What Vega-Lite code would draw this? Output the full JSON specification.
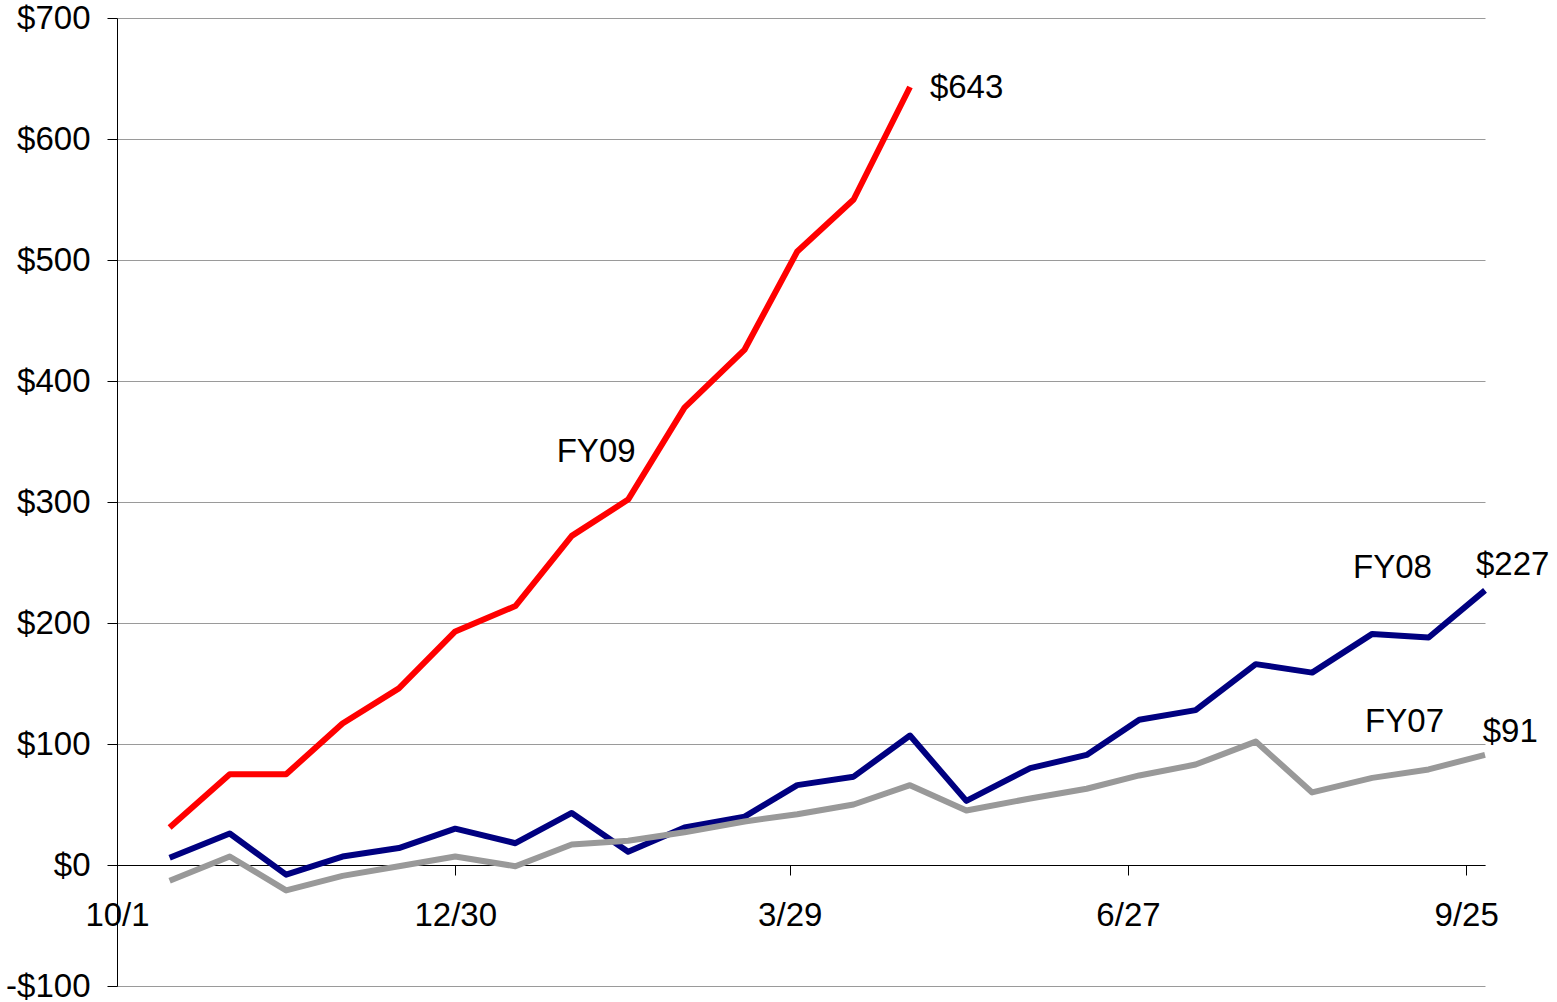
{
  "$schema": "https://vega.github.io/schema/vega-lite/v6.json",
  "autosize": {"type": "none"},
  "width": 1368,
  "height": 968,
  "padding": {"left": 117, "top": 18, "right": 72, "bottom": 16},
  "background": "white",
  "config": {
    "view": {"stroke": null},
    "font": "Liberation Sans",
    "axis": {"labelFont": "Liberation Sans", "labelFontSize": 33, "labelColor": "black"}
  },
  "datasets": {
    "series": [
      {"series": "FY09", "day": 14, "value": 31},
      {"series": "FY09", "day": 30, "value": 75},
      {"series": "FY09", "day": 45, "value": 75},
      {"series": "FY09", "day": 60, "value": 117},
      {"series": "FY09", "day": 75, "value": 146},
      {"series": "FY09", "day": 90, "value": 193},
      {"series": "FY09", "day": 106, "value": 214},
      {"series": "FY09", "day": 121, "value": 272},
      {"series": "FY09", "day": 136, "value": 302},
      {"series": "FY09", "day": 151, "value": 378},
      {"series": "FY09", "day": 167, "value": 426},
      {"series": "FY09", "day": 181, "value": 507},
      {"series": "FY09", "day": 196, "value": 550},
      {"series": "FY09", "day": 211, "value": 643},

      {"series": "FY08", "day": 14, "value": 6},
      {"series": "FY08", "day": 30, "value": 26},
      {"series": "FY08", "day": 45, "value": -8},
      {"series": "FY08", "day": 60, "value": 7},
      {"series": "FY08", "day": 75, "value": 14},
      {"series": "FY08", "day": 90, "value": 30},
      {"series": "FY08", "day": 106, "value": 18},
      {"series": "FY08", "day": 121, "value": 43},
      {"series": "FY08", "day": 136, "value": 11},
      {"series": "FY08", "day": 151, "value": 31},
      {"series": "FY08", "day": 167, "value": 40},
      {"series": "FY08", "day": 181, "value": 66},
      {"series": "FY08", "day": 196, "value": 73},
      {"series": "FY08", "day": 211, "value": 107},
      {"series": "FY08", "day": 226, "value": 53},
      {"series": "FY08", "day": 243, "value": 80},
      {"series": "FY08", "day": 258, "value": 91},
      {"series": "FY08", "day": 272, "value": 120},
      {"series": "FY08", "day": 287, "value": 128},
      {"series": "FY08", "day": 303, "value": 166},
      {"series": "FY08", "day": 318, "value": 159},
      {"series": "FY08", "day": 334, "value": 191},
      {"series": "FY08", "day": 349, "value": 188},
      {"series": "FY08", "day": 364, "value": 227},

      {"series": "FY07", "day": 14, "value": -13},
      {"series": "FY07", "day": 30, "value": 7},
      {"series": "FY07", "day": 45, "value": -21},
      {"series": "FY07", "day": 60, "value": -9},
      {"series": "FY07", "day": 75, "value": -1},
      {"series": "FY07", "day": 90, "value": 7},
      {"series": "FY07", "day": 106, "value": -1},
      {"series": "FY07", "day": 121, "value": 17},
      {"series": "FY07", "day": 136, "value": 20},
      {"series": "FY07", "day": 151, "value": 27},
      {"series": "FY07", "day": 167, "value": 36},
      {"series": "FY07", "day": 181, "value": 42},
      {"series": "FY07", "day": 196, "value": 50},
      {"series": "FY07", "day": 211, "value": 66},
      {"series": "FY07", "day": 226, "value": 45},
      {"series": "FY07", "day": 243, "value": 55},
      {"series": "FY07", "day": 258, "value": 63},
      {"series": "FY07", "day": 272, "value": 74},
      {"series": "FY07", "day": 287, "value": 83},
      {"series": "FY07", "day": 303, "value": 102},
      {"series": "FY07", "day": 318, "value": 60},
      {"series": "FY07", "day": 334, "value": 72},
      {"series": "FY07", "day": 349, "value": 79},
      {"series": "FY07", "day": 364, "value": 91}
    ],
    "labels": [
      {"text": "FY09", "day": 117, "value": 341},
      {"text": "$643", "day": 216.3, "value": 642},
      {"text": "FY08", "day": 328.9, "value": 245.5},
      {"text": "$227", "day": 361.6, "value": 248},
      {"text": "FY07", "day": 332.1, "value": 118},
      {"text": "$91", "day": 363.4, "value": 110}
    ]
  },
  "encoding": {
    "x": {
      "field": "day",
      "type": "quantitative",
      "scale": {"domain": [0, 364], "nice": false, "zero": false},
      "axis": {
        "title": null,
        "orient": "bottom",
        "offset": -121,
        "values": [0, 90, 179, 269, 359],
        "labelExpr": "datum.value == 0 ? '10/1' : datum.value == 90 ? '12/30' : datum.value == 179 ? '3/29' : datum.value == 269 ? '6/27' : '9/25'",
        "grid": false,
        "domainColor": "black",
        "domainWidth": 1,
        "tickColor": "black",
        "tickSize": 10,
        "labelPadding": 24,
        "labelFlush": false,
        "labelOverlap": false
      }
    },
    "y": {
      "field": "value",
      "type": "quantitative",
      "scale": {"domain": [-100, 700], "nice": false, "zero": false},
      "axis": {
        "title": null,
        "values": [-100, 0, 100, 200, 300, 400, 500, 600, 700],
        "labelExpr": "datum.value < 0 ? '-$' + abs(datum.value) : '$' + datum.value",
        "grid": true,
        "gridColor": "#9a9a9a",
        "gridWidth": 1,
        "domainColor": "black",
        "domainWidth": 1,
        "tickColor": "black",
        "tickSize": 10,
        "labelPadding": 17,
        "labelFlush": false,
        "labelOverlap": false
      }
    }
  },
  "layer": [
    {
      "data": {"name": "series"},
      "mark": {"type": "line", "strokeJoin": "round"},
      "encoding": {
        "color": {
          "field": "series",
          "type": "nominal",
          "scale": {"domain": ["FY07", "FY08", "FY09"], "range": ["#999999", "#000080", "#ff0000"]},
          "legend": null
        },
        "strokeWidth": {
          "field": "series",
          "type": "nominal",
          "scale": {"domain": ["FY07", "FY08", "FY09"], "range": [6, 6, 4]},
          "legend": null
        }
      }
    },
    {
      "data": {"name": "labels"},
      "mark": {"type": "text", "align": "left", "baseline": "middle", "fontSize": 33, "font": "Liberation Sans", "color": "black"},
      "encoding": {
        "text": {"field": "text", "type": "nominal"}
      }
    }
  ]
}
